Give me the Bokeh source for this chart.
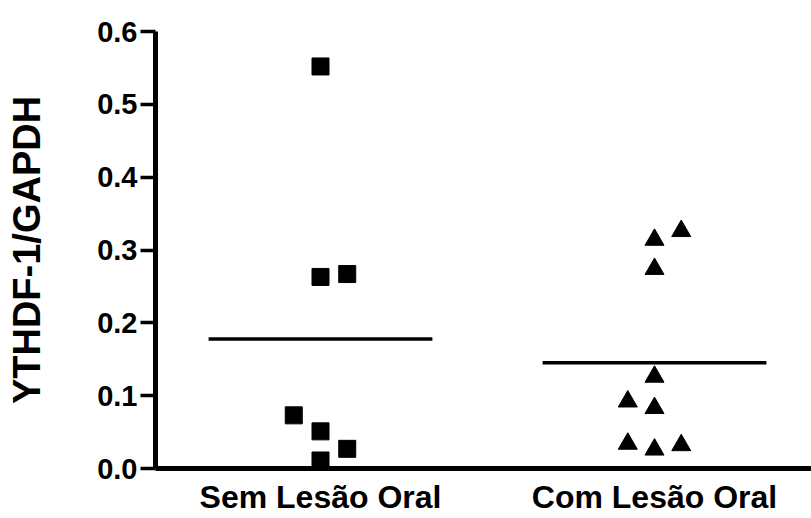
from bokeh.plotting import figure
from bokeh.models import Range1d, FixedTicker
from bokeh.embed import file_html
from bokeh.resources import INLINE
import numpy as np

# ---- data ----
categories = ["Sem Lesão Oral", "Com Lesão Oral"]
sem_values = [0.552, 0.263, 0.267, 0.073, 0.051, 0.027, 0.011]
sem_slots = [0, 0, 1, -1, 0, 1, 0]          # scatter column slot within the group
com_values = [0.314, 0.326, 0.274, 0.126, 0.092, 0.083, 0.034, 0.026, 0.032]
com_slots = [0, 1, 0, 0, -1, 0, -1, 0, 1]
y_ticks = [0.0, 0.1, 0.2, 0.3, 0.4, 0.5, 0.6]
y_label = "YTHDF-1/GAPDH"

SPREAD = 0.08      # horizontal spacing between scatter columns (category units)
HALF_MEAN = 0.335  # half length of mean bar

FONT = "Liberation Sans"

p = figure(width=811, height=518, output_backend="svg", toolbar_location=None,
           x_range=Range1d(0.506, 2.47), y_range=Range1d(0, 0.6),
           min_border_left=155, min_border_right=0, min_border_top=31,
           min_border_bottom=50)
p.outline_line_color = None
p.xgrid.grid_line_color = None
p.ygrid.grid_line_color = None
p.background_fill_color = "white"
p.border_fill_color = "white"

# points
sx = [1 + s * SPREAD for s in sem_slots]
cx = [2 + s * SPREAD for s in com_slots]
p.scatter(sx, sem_values, marker="square", size=17, color="black")
p.scatter(cx, com_values, marker="triangle", size=19, color="black")

# means
for i, vals in enumerate([sem_values, com_values]):
    m = float(np.mean(vals))
    c = i + 1
    p.line([c - HALF_MEAN, c + HALF_MEAN], [m, m], line_color="black", line_width=3.5)

# y axis
ya = p.yaxis[0]
ya.ticker = FixedTicker(ticks=y_ticks)
ya.minor_tick_line_color = None
ya.major_tick_in = 0
ya.major_tick_out = 15
ya.major_tick_line_width = 3.5
ya.major_tick_line_color = "black"
ya.axis_line_width = 5
ya.axis_line_color = "black"
ya.major_label_text_font = FONT
ya.major_label_text_font_style = "bold"
ya.major_label_text_font_size = "29px"
ya.major_label_text_color = "black"
ya.major_label_standoff = 3
ya.major_label_overrides = {t: f"{t:.1f}" for t in y_ticks}
ya.axis_label = y_label
ya.axis_label_text_font = FONT
ya.axis_label_text_font_style = "bold"
ya.axis_label_text_font_size = "38px"
ya.axis_label_text_color = "black"
ya.axis_label_standoff = 46

# x axis
xa = p.xaxis[0]
xa.ticker = FixedTicker(ticks=[1, 2])
xa.major_label_overrides = {1: categories[0], 2: categories[1]}
xa.minor_tick_line_color = None
xa.major_tick_line_color = None
xa.major_tick_in = 0
xa.major_tick_out = 0
xa.axis_line_width = 5
xa.axis_line_color = "black"
xa.major_label_text_font = FONT
xa.major_label_text_font_style = "bold"
xa.major_label_text_font_size = "32px"
xa.major_label_text_color = "black"
xa.major_label_standoff = 10

open("out.html", "w").write(file_html(p, INLINE))
